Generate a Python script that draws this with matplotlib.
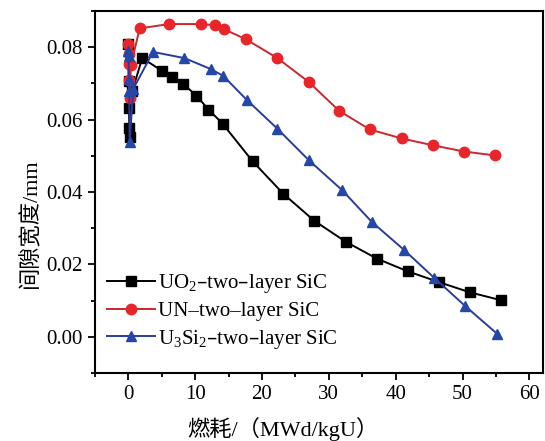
import numpy as np
import matplotlib.pyplot as plt
from matplotlib.ticker import MultipleLocator

plt.rcParams['font.family'] = ['Liberation Serif', 'Noto Sans CJK SC', 'DejaVu Sans']
plt.rcParams['mathtext.default'] = 'regular'

# burnup (MWd/kgU) vs gap width (mm)
uo2_x = [0, 0.05, 0.1, 0.15, 0.2, 0.6, 2.1, 5.1, 6.6, 8.2, 10.2, 12.0, 14.1, 18.6,
         23.2, 27.8, 32.5, 37.2, 41.8, 46.5, 51.1, 55.8]
uo2_y = [0.081, 0.0707, 0.0633, 0.0578, 0.0551, 0.068, 0.077, 0.0734, 0.0718, 0.0699,
         0.0666, 0.0628, 0.0589, 0.0485, 0.0395, 0.0321, 0.0263, 0.0216, 0.0181,
         0.0151, 0.0123, 0.0101]

un_x = [0, 0.05, 0.1, 0.15, 0.2, 0.4, 1.7, 6.1, 10.9, 12.9, 14.3, 17.6, 22.3,
        27.0, 31.5, 36.1, 40.9, 45.6, 50.2, 54.9]
un_y = [0.0808, 0.078, 0.0753, 0.071, 0.066, 0.075, 0.0852, 0.0864, 0.0864, 0.0861,
        0.085, 0.0822, 0.077, 0.0704, 0.0625, 0.0573, 0.0548, 0.0529, 0.0512, 0.0501]

usi_x = [0, 0.05, 0.1, 0.15, 0.2, 0.75, 3.7, 8.4, 12.3, 14.2, 17.7, 22.3, 27.0,
         32.0, 36.4, 41.2, 45.7, 50.4, 55.2]
usi_y = [0.079, 0.0776, 0.0712, 0.068, 0.0537, 0.0685, 0.0787, 0.077, 0.074, 0.0721,
         0.0655, 0.0575, 0.0488, 0.0405, 0.0318, 0.0241, 0.0164, 0.0085, 0.0008]

fig = plt.figure(figsize=(5.45, 4.41), dpi=100)
ax = fig.add_axes([0.174, 0.154, 0.822, 0.821])

ax.plot(uo2_x, uo2_y, color='black', lw=1.4, marker='s', ms=6.5,
        mfc='black', mec='black', label=r'UO$_2$–two–layer SiC')
ax.plot(un_x, un_y, color='#c8282e', lw=1.4, marker='o', ms=7.5,
        mfc='#e8262a', mec='#e8262a', label='UN–two–layer SiC')
ax.plot(usi_x, usi_y, color='#2b3b9c', lw=1.4, marker='^', ms=7.5,
        mfc='#2447a8', mec='#2447a8', label=r'U$_3$Si$_2$–two–layer SiC')

ax.set_xlim(-5, 62)
ax.set_ylim(-0.01, 0.09)
ax.xaxis.set_major_locator(MultipleLocator(10))
ax.xaxis.set_minor_locator(MultipleLocator(5))
ax.yaxis.set_major_locator(MultipleLocator(0.02))
ax.yaxis.set_minor_locator(MultipleLocator(0.01))
ax.yaxis.set_major_formatter(plt.FuncFormatter(lambda v, p: f'{v:.2f}'))

for s in ax.spines.values():
    s.set_linewidth(1.5)
ax.tick_params(which='both', direction='out', width=1.3, labelsize=15,
               top=False, right=False)
ax.tick_params(which='major', length=5)
ax.tick_params(which='minor', length=3)

ax.set_xlabel('燃耗/（MWd/kgU）', fontsize=16)
ax.xaxis.set_label_coords(0.42, -0.12)
ax.set_ylabel('间隙宽度/mm', fontsize=16)
ax.yaxis.set_label_coords(-0.12, 0.414)

ax.legend(loc='lower left', bbox_to_anchor=(-0.005, 0.022), frameon=False,
          fontsize=15, handlelength=2.3, handletextpad=0.15, labelspacing=0.3,
          borderaxespad=0.3)

fig.savefig('out.png', dpi=100)
